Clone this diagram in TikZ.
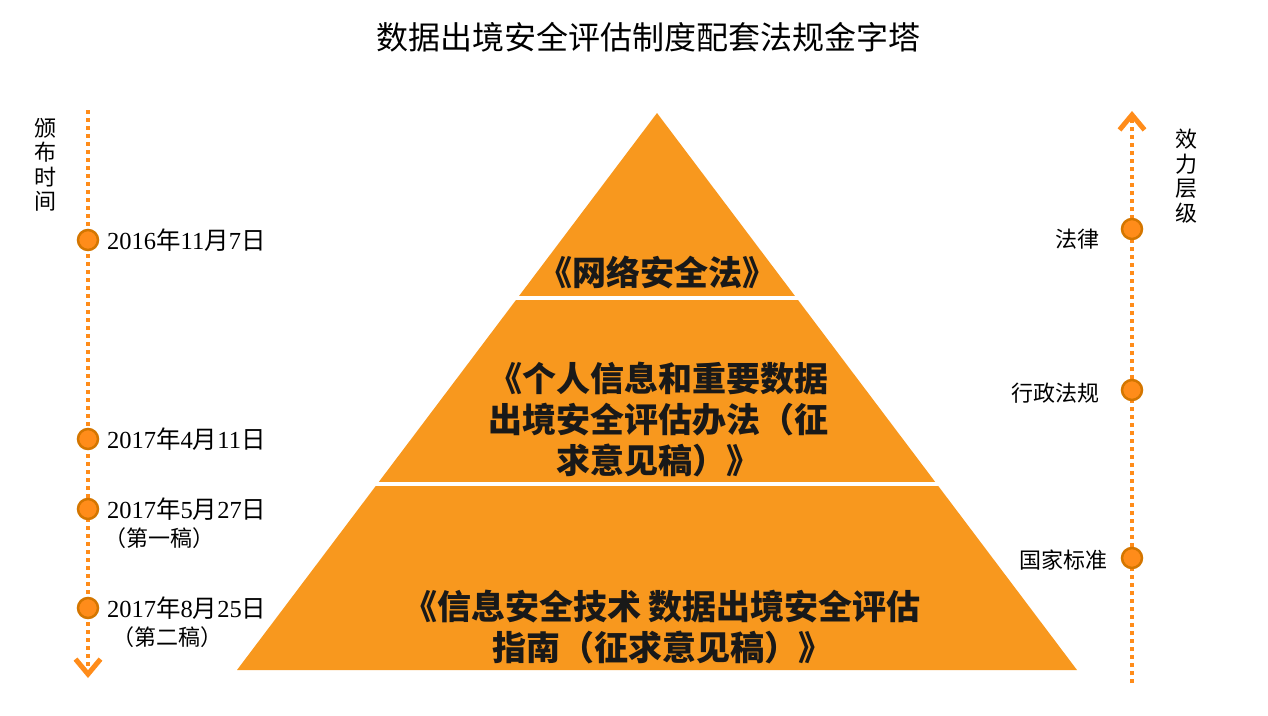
\documentclass[tikz,border=0pt]{standalone}
\usepackage{fontspec}
\setmainfont{Liberation Serif}
\newfontfamily\cjk{Noto Sans CJK SC}
\usetikzlibrary{arrows.meta}
\definecolor{pyrorange}{RGB}{248,152,30}
\definecolor{dotorange}{RGB}{255,140,26}
\definecolor{ringorange}{RGB}{212,118,0}
\begin{document}
\begin{tikzpicture}[x=1pt,y=-1pt]
		\tikzset{axis/.style = {draw=dotorange, line width=4pt, dash pattern=on 4pt off 4pt}}
		\tikzset{axistip/.style = {-{Straight Barb[length=15pt,width=25pt,line width=5pt]}}}
		\tikzset{milestone/.style = {shape=circle, fill=dotorange, draw=ringorange, line width=2.5pt, minimum size=20pt, inner sep=0pt}}
		\tikzset{datelabel/.style = {anchor=west, inner sep=0pt, font=\fontsize{24.5}{27}\selectfont}}
		\tikzset{levellabel/.style = {anchor=east, inner sep=0pt, font=\cjk\fontsize{22}{26}\selectfont}}
		\tikzset{vlabel/.style = {align=center, inner sep=0pt, font=\cjk\fontsize{22}{24.5}\selectfont}}
		\tikzset{tiertext/.style = {align=center, inner sep=0pt, text=black!90, font=\cjk\bfseries\fontsize{34}{41}\selectfont}}
		\useasboundingbox (0,0) rectangle (1268,715);
		% pyramid
		\coordinate (apex) at (657,113);
		\coordinate (baseL) at (237,670);
		\coordinate (baseR) at (1077,670);
		\fill[pyrorange] (apex) -- (baseL) -- (baseR) -- cycle;
		\draw[white, line width=4pt] (500,298) -- (820,298);
		\draw[white, line width=4pt] (360,484) -- (960,484);
		\node[tiertext] (law) at (657,272) {《网络安全法》};
		\node[tiertext] (measures) at (658,420) {《个人信息和重要数据\\出境安全评估办法（征\\求意见稿）》};
		\node[tiertext] (guide) at (662,627) {《信息安全技术 数据出境安全评估\\指南（征求意见稿）》};
		\node[font=\cjk\fontsize{32}{36}\selectfont] (title) at (648,37) {数据出境安全评估制度配套法规金字塔};
		% left axis: dates
		\coordinate (timeTop) at (88,110);
		\coordinate (timeEnd) at (88,678);
		\draw[axis, axistip] (timeTop) -- (timeEnd);
		\node[vlabel] (pubtime) at (45,165) {颁\\布\\时\\间};
		\node[milestone] (m1) at (88,240) {};
		\node[milestone] (m2) at (88,439) {};
		\node[milestone] (m3) at (88,509) {};
		\node[milestone] (m4) at (88,608) {};
		\node[datelabel] (d1) at (107,240) {2016{\cjk 年}11{\cjk 月}7{\cjk 日}};
		\node[datelabel] (d2) at (107,439) {2017{\cjk 年}4{\cjk 月}11{\cjk 日}};
		\node[datelabel] (d3) at (107,509) {2017{\cjk 年}5{\cjk 月}27{\cjk 日}};
		\node[datelabel, font=\cjk\fontsize{22}{26}\selectfont] (d3b) at (104,538) {（第一稿）};
		\node[datelabel] (d4) at (107,608) {2017{\cjk 年}8{\cjk 月}25{\cjk 日}};
		\node[datelabel, font=\cjk\fontsize{22}{26}\selectfont] (d4b) at (112,637) {（第二稿）};
		% right axis: levels
		\coordinate (rankBottom) at (1132,683);
		\coordinate (rankTop) at (1132,111);
		\draw[axis, axistip] (rankBottom) -- (rankTop);
		\node[vlabel] (rank) at (1186,176) {效\\力\\层\\级};
		\node[milestone] (r1) at (1132,229) {};
		\node[milestone] (r2) at (1132,390) {};
		\node[milestone] (r3) at (1132,558) {};
		\node[levellabel] (l1) at (1100,239) {法律};
		\node[levellabel] (l2) at (1100,393) {行政法规};
		\node[levellabel] (l3) at (1108,560) {国家标准};
\end{tikzpicture}
\end{document}
